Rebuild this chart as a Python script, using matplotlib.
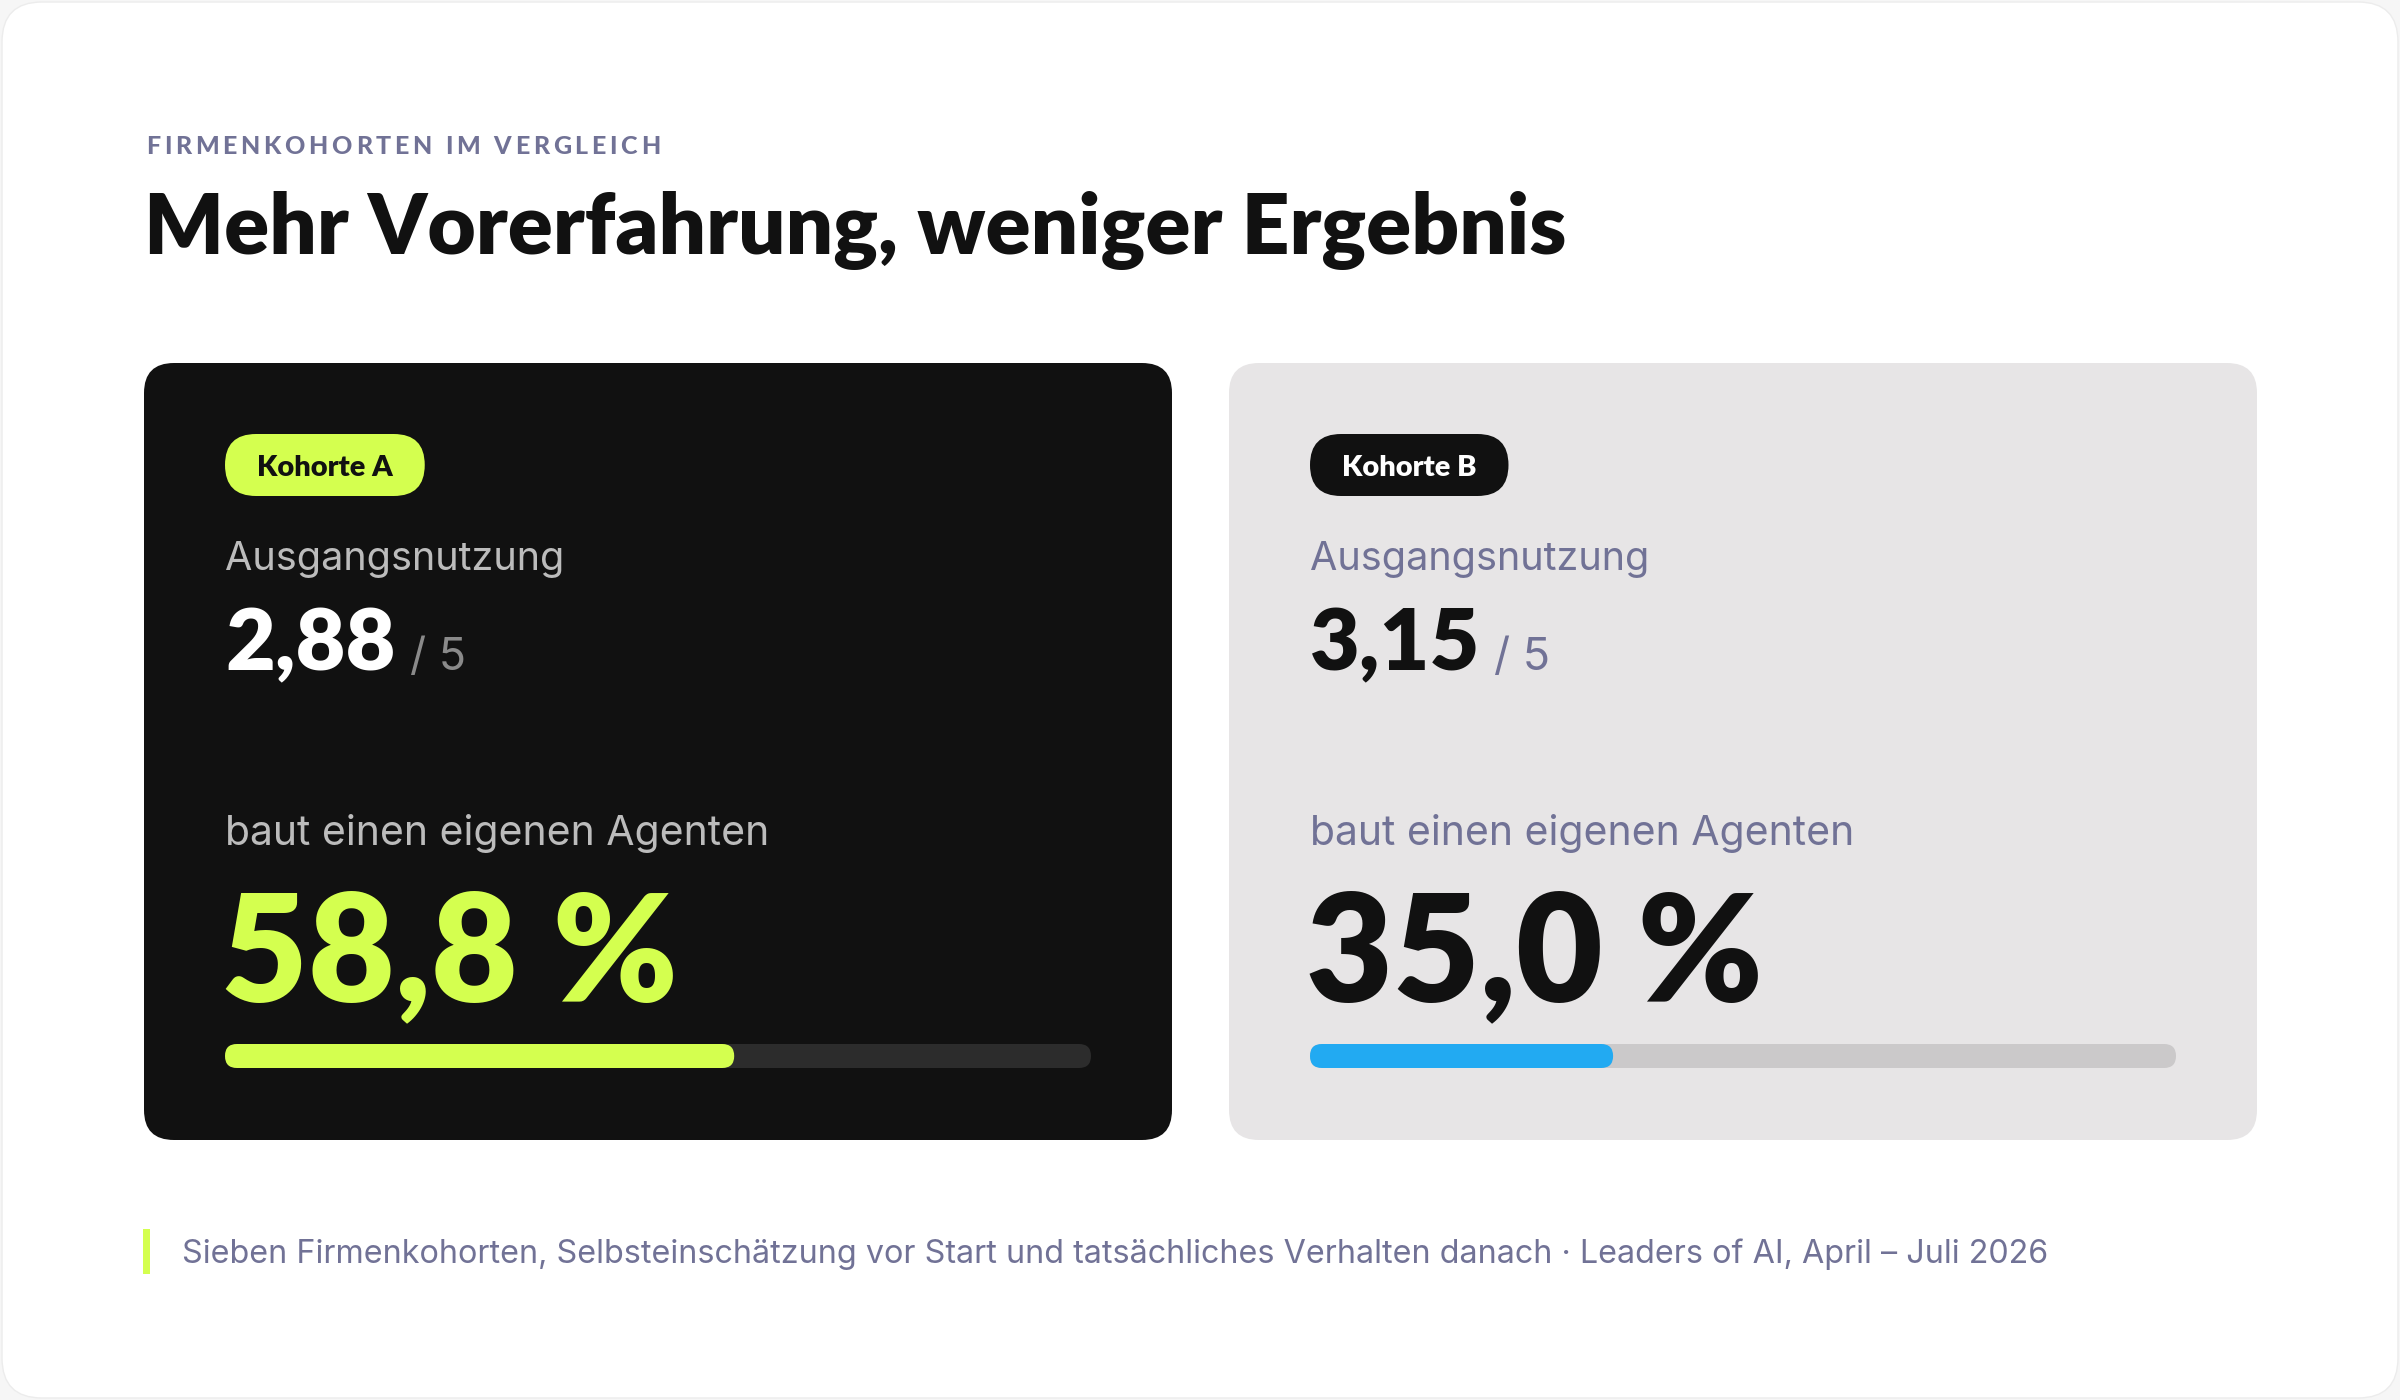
import matplotlib.pyplot as plt
from matplotlib.patches import FancyBboxPatch

# data
cohorts = ['Kohorte A', 'Kohorte B']
baseline_usage = [2.88, 3.15]
usage_max = 5
agent_share = [58.8, 35.0]
label_usage = 'Ausgangsnutzung'
label_agent = 'baut einen eigenen Agenten'
eyebrow = 'FIRMENKOHORTEN IM VERGLEICH'
title = 'Mehr Vorerfahrung, weniger Ergebnis'
footnote = ('Sieben Firmenkohorten, Selbsteinschätzung vor Start und tatsächliches '
            'Verhalten danach · Leaders of AI, April – Juli 2026')

BOLD = 'Lato'
REG = 'Inter'
LIME = '#d4ff4f'
SLATE = '#717296'
INK = '#111111'

themes = [
    dict(bg=INK, pill=LIME, pill_txt=INK, label='#bcbcbc', value='white',
         unit='#8a8a8a', big=LIME, track='#2c2c2c', fill=LIME),
    dict(bg='#e7e5e6', pill=INK, pill_txt='white', label=SLATE, value=INK,
         unit=SLATE, big=INK, track='#cbc9ca', fill='#22aaf2'),
]


def pt(px):
    # pixel height of the em box -> points at dpi 100
    return px * 0.72


fig = plt.figure(figsize=(24, 14), dpi=100, facecolor='#f6f6f6')
ax = fig.add_axes([0, 0, 1, 1])
ax.set_xlim(0, 2400)
ax.set_ylim(1400, 0)
ax.axis('off')
renderer = fig.canvas.get_renderer()

ax.add_patch(FancyBboxPatch((2, 2), 2396, 1396, boxstyle='round,pad=0,rounding_size=40',
                            fc='white', ec='#ececec', lw=1))


def text_width(s, **kw):
    t = ax.text(0, 0, s, **kw)
    w = t.get_window_extent(renderer).width
    t.remove()
    return w


def fit_text(x, y, s, target_w, fontsize, **kw):
    # rescale font size so the string spans target_w pixels
    w = text_width(s, fontsize=fontsize, **kw)
    return ax.text(x, y, s, fontsize=fontsize * target_w / w, va='baseline', **kw)


def spaced_text(x, y, s, target_w, **kw):
    ref = text_width('HH', **kw)
    widths = [text_width('H' + ch + 'H', **kw) - ref for ch in s]
    gap = (target_w - sum(widths)) / (len(s) - 1)
    for ch, w in zip(s, widths):
        ax.text(x, y, ch, va='baseline', **kw)
        x += w + gap


# header
spaced_text(146, 154, eyebrow, 514, family=BOLD, weight='black',
            fontsize=pt(25), color=SLATE)
fit_text(144, 254, title, 1420, pt(82), family=BOLD, weight='heavy', color=INK)

card_x = [144, 1229]
card_w = 1028
card_top, card_bot = 363, 1140
pad = 81
track_w = 866

for i, name in enumerate(cohorts):
    th = themes[i]
    x0 = card_x[i]
    ax.add_patch(FancyBboxPatch((x0, card_top), card_w, card_bot - card_top,
                                boxstyle='round,pad=0,rounding_size=30',
                                fc=th['bg'], ec='none'))
    tx = x0 + pad

    # pill
    pill_kw = dict(family=BOLD, weight='heavy', fontsize=pt(29), color=th['pill_txt'])
    pw = text_width(name, **pill_kw) + 64
    ax.add_patch(FancyBboxPatch((tx, 434), pw, 62, boxstyle='round,pad=0,rounding_size=31',
                                fc=th['pill'], ec='none'))
    ax.text(tx + pw / 2, 466, name, ha='center', va='center_baseline', **pill_kw)

    # baseline usage
    fit_text(tx, 570, label_usage, 340, pt(37), family=REG, color=th['label'])
    val = f'{baseline_usage[i]:.2f}'.replace('.', ',')
    vkw = dict(family=BOLD, weight='heavy', fontsize=pt(86), color=th['value'])
    ax.text(tx, 670, val, va='baseline', **vkw)
    vw = text_width(val, **vkw)
    fit_text(tx + vw + 14, 670, f'/ {usage_max}', 56, pt(42), family=REG,
             color=th['unit'])

    # agent share
    fit_text(tx, 845, label_agent, 543, pt(37), family=REG, color=th['label'])
    share = f'{agent_share[i]:.1f}'.replace('.', ',') + ' %'
    ax.text(tx - 4, 1001, share, family=BOLD, weight='heavy', fontsize=pt(150),
            color=th['big'], va='baseline')

    # progress bar
    ax.add_patch(FancyBboxPatch((tx, 1044), track_w, 24, boxstyle='round,pad=0,rounding_size=12',
                                fc=th['track'], ec='none'))
    ax.add_patch(FancyBboxPatch((tx, 1044), track_w * agent_share[i] / 100, 24,
                                boxstyle='round,pad=0,rounding_size=12',
                                fc=th['fill'], ec='none'))

# footnote
ax.add_patch(plt.Rectangle((143, 1229), 7, 45, fc=LIME, ec='none'))
fit_text(182, 1263, footnote, 1861, pt(32), family=REG, color=SLATE)

fig.savefig('out.png', dpi=100, facecolor=fig.get_facecolor())
